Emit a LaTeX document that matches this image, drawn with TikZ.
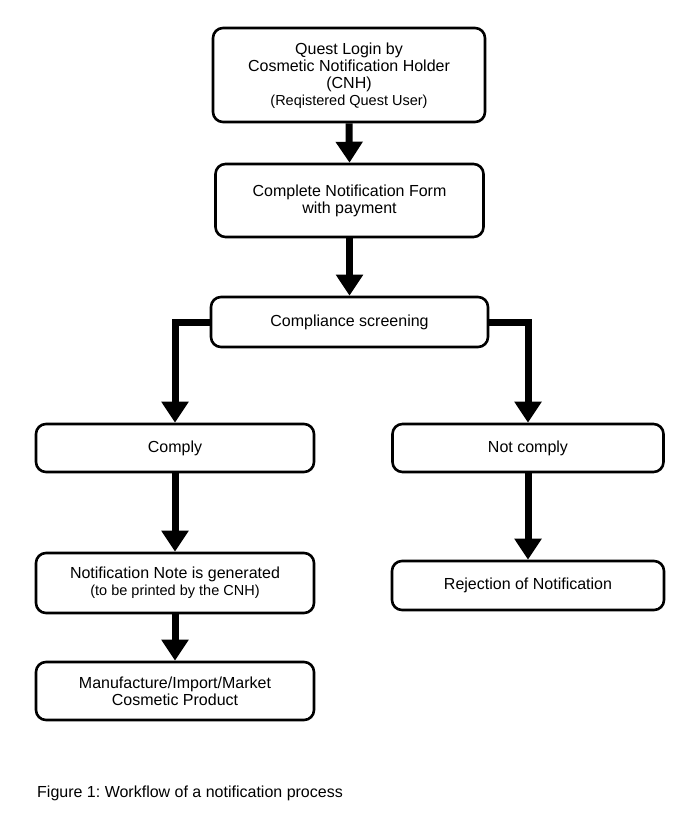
\documentclass[tikz,border=0pt]{standalone}
\usepackage{fontspec}
\setmainfont{Liberation Sans}
\frenchspacing
\usetikzlibrary{arrows.meta,positioning}
\tikzset{
  flowbox/.style={draw, line width=2.6pt, rounded corners=10pt, align=center,
    inner sep=0pt, font=\fontsize{16}{16.8}\selectfont, fill=white},
  flowarrow/.style={line width=7pt, line join=miter,
    -{Triangle[width=26pt,length=21pt]}}
}
\begin{document}
\begin{tikzpicture}[x=1pt,y=-1pt]
\useasboundingbox (0,0) rectangle (675,825);
\node[flowbox, minimum width=272pt, minimum height=94pt] (q) at (349,75)
  {\\[-4pt]Quest Login by\\Cosmetic Notification Holder\\(CNH)\\{\fontsize{14.5}{16.8}\selectfont (Reqistered Quest User)}};
\node[flowbox, minimum width=268pt, minimum height=73pt] (c) at (349.5,200.5)
  {Complete Notification Form\\with payment};
\node[flowbox, minimum width=277pt, minimum height=50pt] (s) at (349.5,322)
  {Compliance screening};
\node[flowbox, minimum width=278pt, minimum height=48pt] (y) at (175,448)
  {Comply};
\node[flowbox, minimum width=271pt, minimum height=48pt] (n) at (528,448)
  {Not comply};
\node[flowbox, minimum width=278pt, minimum height=60pt] (g) at (175,583)
  {Notification Note is generated\\{\fontsize{14.5}{16.8}\selectfont (to be printed by the CNH)}};
\node[flowbox, minimum width=278pt, minimum height=58pt] (m) at (175,691)
  {Manufacture/Import/Market\\Cosmetic Product};
\node[flowbox, minimum width=272pt, minimum height=49pt] (r) at (528,585.5)
  {Rejection of Notification};
\node[anchor=west, inner sep=0pt, font=\fontsize{16}{16.8}\selectfont] (cap) at (37,793)
  {Figure 1: Workflow of a notification process};
\draw[flowarrow] (q.south) -- (c.north);
\draw[flowarrow] (c.south) -- (s.north);
\draw[flowarrow] (s.west) -| (y.north);
\draw[flowarrow] (s.east) -| (n.north);
\draw[flowarrow] (y.south) -- (g.north);
\draw[flowarrow] (g.south) -- (m.north);
\draw[flowarrow] (n.south) -- (r.north);
\end{tikzpicture}
\end{document}
